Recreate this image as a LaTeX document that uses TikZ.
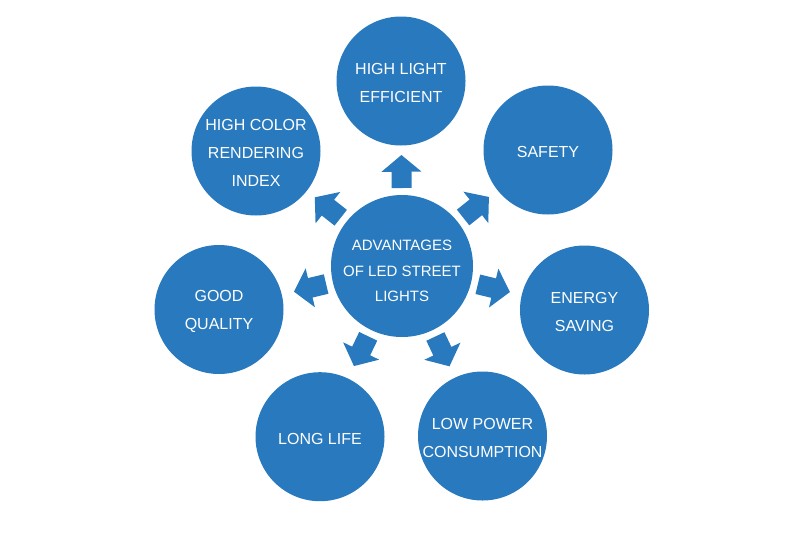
\documentclass[tikz,border=0pt]{standalone}
\usepackage{fontspec}
\setmainfont{Liberation Sans}
\usetikzlibrary{calc}
\definecolor{ledblue}{RGB}{40,121,190}
\newcommand\blockarrow[2]{%
  \coordinate (tl) at ($(#1)!78pt!(#2)$);
  \coordinate (hb) at ($(#1)!94.3pt!(#2)$);
  \coordinate (tp) at ($(#1)!111pt!(#2)$);
  \fill[ledblue] ($(tl)!10pt!90:(#2)$) -- ($(hb)!10pt!90:(#2)$) -- ($(hb)!20pt!90:(#2)$) -- (tp)
    -- ($(hb)!20pt!-90:(#2)$) -- ($(hb)!10pt!-90:(#2)$) -- ($(tl)!10pt!-90:(#2)$) -- cycle;
}
\begin{document}
\begin{tikzpicture}[x=1pt,y=-1pt,
  outertxt/.style={text=white, align=center, inner sep=0pt, yshift=-2pt,
    font=\fontsize{16}{27.7}\selectfont},
  hubtxt/.style={text=white, align=center, inner sep=0pt, yshift=-5pt,
    font=\fontsize{15}{25.7}\selectfont},
  outer/.style={circle, fill=ledblue, inner sep=0pt, minimum size=129pt,
    label={[outertxt]center:{#1}}},
  hub/.style={circle, fill=ledblue, inner sep=0pt, minimum size=142pt,
    label={[hubtxt]center:{#1}}}]
\useasboundingbox (0,0) rectangle (800,533);
\node[hub={ADVANTAGES\\OF LED STREET\\LIGHTS}] (c) at (402,266) {};
\node[outer={HIGH LIGHT\\EFFICIENT}] (top) at (401,81) {};
\node[outer={HIGH COLOR\\RENDERING\\INDEX}] (cri) at (256,151) {};
\node[outer={SAFETY}] (saf) at (548,150) {};
\node[outer={ENERGY\\SAVING}] (ene) at (584.5,310) {};
\node[outer={GOOD\\QUALITY}] (goo) at (219,309.5) {};
\node[outer={LONG LIFE}] (lon) at (320,436.7) {};
\node[outer={LOW POWER\\CONSUMPTION}] (low) at (482.5,436) {};
\blockarrow{c}{top}
\blockarrow{c}{cri}
\blockarrow{c}{saf}
\blockarrow{c}{ene}
\blockarrow{c}{goo}
\blockarrow{c}{lon}
\blockarrow{c}{low}
\end{tikzpicture}
\end{document}
